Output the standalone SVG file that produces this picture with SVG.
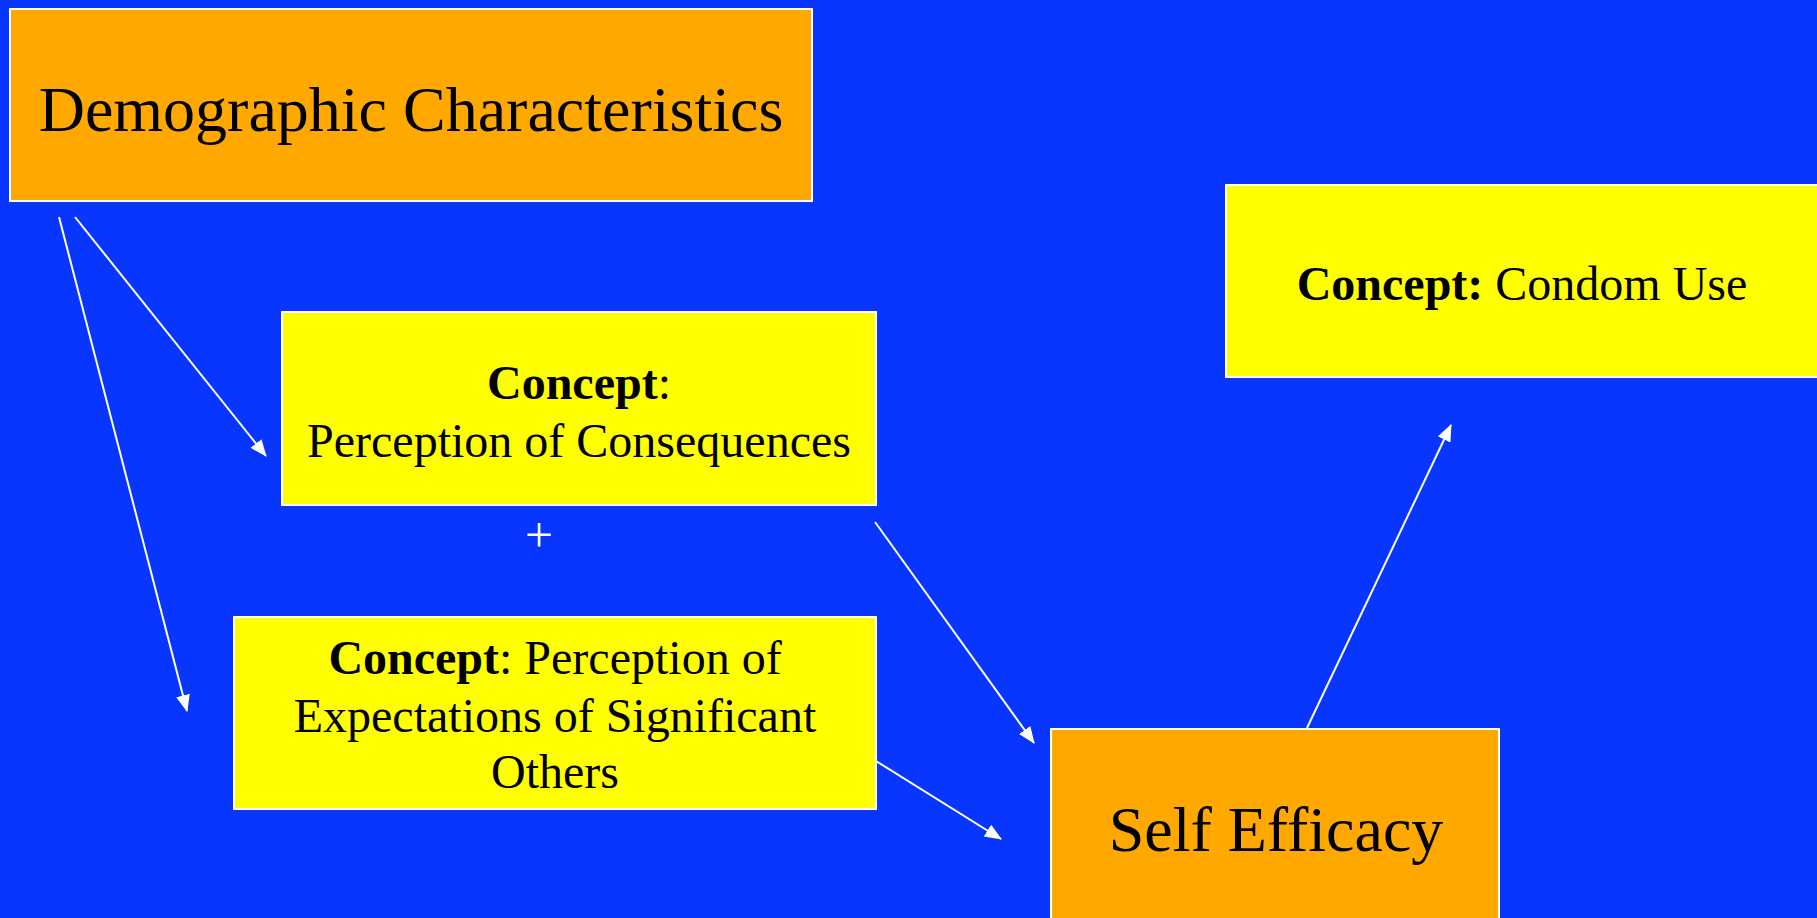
<svg xmlns="http://www.w3.org/2000/svg" width="1817" height="918" viewBox="0 0 1817 918">
<style>
.box{stroke:#FFFFFF;stroke-width:2}
.orange{fill:#FFA800}
.yellow{fill:#FFFF00}
.t{font-family:"Liberation Serif","Times New Roman",serif;fill:#000000;text-anchor:middle}
.b{font-weight:bold}
.conn{stroke:#FFFFFF;stroke-width:2;fill:none}
</style>
<defs>
<marker id="ah" markerUnits="userSpaceOnUse" markerWidth="18" markerHeight="16" refX="16" refY="7" orient="auto">
<path d="M0,0 L17,7 L0,14 Z" fill="#FFFFFF"/>
</marker>
</defs>
<rect x="0" y="0" width="1817" height="918" fill="#0836FF"/>
<g id="demographic">
<rect class="box orange" x="10" y="9" width="802" height="192"/>
<text class="t" x="411" y="131" font-size="64">Demographic Characteristics</text>
</g>
<g id="consequences">
<rect class="box yellow" x="282" y="312" width="594" height="193"/>
<text class="t" x="579" y="399" font-size="48"><tspan class="b">Concept</tspan>:</text>
<text class="t" x="579" y="457" font-size="48">Perception of Consequences</text>
</g>
<g id="plus">
<text class="t" x="539" y="552" font-size="50" style="fill:#FFFFFF">+</text>
</g>
<g id="expectations">
<rect class="box yellow" x="234" y="617" width="642" height="192"/>
<text class="t" x="555" y="674" font-size="48"><tspan class="b">Concept</tspan>: Perception of</text>
<text class="t" x="555" y="732" font-size="48">Expectations of Significant</text>
<text class="t" x="555" y="788" font-size="48">Others</text>
</g>
<g id="condom">
<rect class="box yellow" x="1226" y="185" width="600" height="192"/>
<text class="t" x="1522" y="300" font-size="48"><tspan class="b">Concept:</tspan> Condom Use</text>
</g>
<g id="selfefficacy">
<rect class="box orange" x="1051" y="729" width="448" height="200"/>
<text class="t" x="1276" y="851" font-size="64">Self Efficacy</text>
</g>
<g id="connectors">
<line class="conn" x1="75" y1="217" x2="266" y2="456" marker-end="url(#ah)"/>
<line class="conn" x1="59" y1="217" x2="187" y2="711" marker-end="url(#ah)"/>
<line class="conn" x1="875" y1="522" x2="1034" y2="743" marker-end="url(#ah)"/>
<line class="conn" x1="876" y1="761" x2="1001" y2="839" marker-end="url(#ah)"/>
<line class="conn" x1="1307" y1="728" x2="1451" y2="425" marker-end="url(#ah)"/>
</g>
</svg>
